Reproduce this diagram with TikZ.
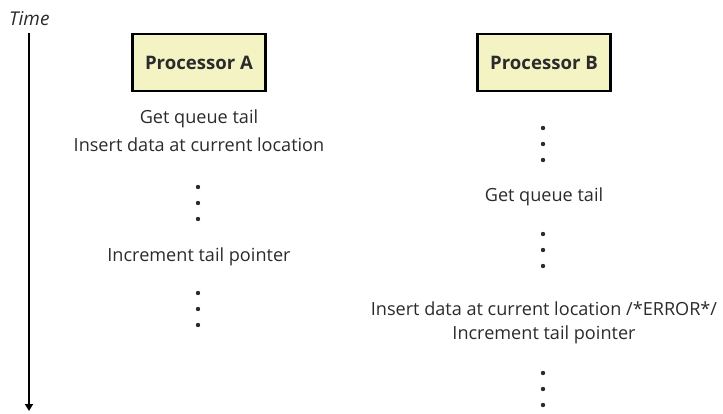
\documentclass[tikz,border=0pt]{standalone}
\usepackage{fontspec}
\setmainfont{Open Sans}
\usepackage{tikz}
\usetikzlibrary{arrows.meta}

\definecolor{boxfill}{HTML}{F3F3C4}
\definecolor{inkgray}{HTML}{2B2B2B}

\tikzset{
  procbox/.style={draw=black, line width=2.4pt, fill=boxfill,
    minimum width=133pt, minimum height=57pt, font=\fontsize{18.6}{22}\selectfont\bfseries,
    text=inkgray, inner sep=0pt},
  steptext/.style={font=\fontsize{18.1}{21}\selectfont, text=inkgray, inner sep=0pt},
  waitdot/.style={fill=inkgray, draw=none}
}

\begin{document}
\begin{tikzpicture}[x=1pt, y=-1pt]
  \useasboundingbox (0,0) rectangle (723,413);

  % Time axis
  \node[steptext, font=\fontsize{19}{22}\selectfont\itshape, anchor=west] (time) at (9,19) {Time};
  \coordinate (tstart) at (29,33);
  \coordinate (tend) at (29,411);
  \draw[line width=2.2pt, -{Triangle[length=7pt, width=8pt]}] (tstart) -- (tend);

  % Processor A
  \begin{scope}[xshift=199pt]
    \node[procbox] (procA) at (0,62.5) {Processor A};
    \node[steptext] (getA) at (0,119) {Get queue tail};
    \node[steptext] (insA) at (0,145) {Insert data at current location};
    \node[steptext] (incA) at (0,257) {Increment tail pointer};
    \foreach \y in {187,203,219, 293,309,325}
      \fill[waitdot] (-1,\y) circle (2.2pt);
  \end{scope}

  % Processor B
  \begin{scope}[xshift=544pt]
    \node[procbox] (procB) at (0,62.5) {Processor B};
    \node[steptext] (getB) at (0,197) {Get queue tail};
    \node[steptext] (insB) at (0,309) {Insert data at current location /*ERROR*/};
    \node[steptext] (incB) at (0,335) {Increment tail pointer};
    \foreach \y in {128,144,160, 234,250,266, 373,389,405}
      \fill[waitdot] (-1,\y) circle (2.2pt);
  \end{scope}
\end{tikzpicture}
\end{document}
